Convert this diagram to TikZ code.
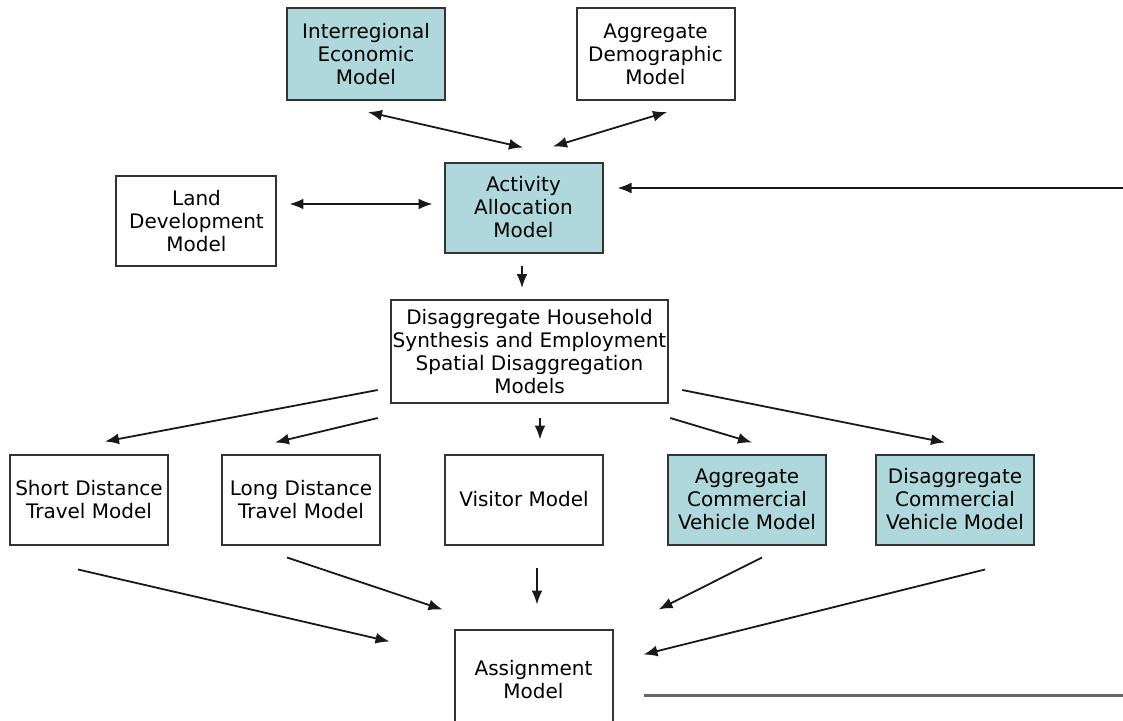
\documentclass[tikz,border=0pt]{standalone}
\usepackage{fontspec}
\setmainfont{DejaVu Sans}
\usetikzlibrary{arrows.meta}
\usetikzlibrary{positioning}
\definecolor{modelfill}{RGB}{174,216,220}
\tikzset{
    model/.style = {draw=black!80, line width=2pt, inner sep=2pt, outer sep=0pt,
                 minimum width=158pt, minimum height=90pt, align=center,
                 font=\fontsize{20}{23}\selectfont},
    tealbox/.style = {model, fill=modelfill},
    link/.style = {draw=black!90, line width=1.8pt},
}

\begin{document}
\begin{tikzpicture}[->,>={Latex[length=14pt,width=11pt]},link]
 \node (act) [tealbox] {Activity\\Allocation\\Model};
 \useasboundingbox ([xshift=-523.5pt,yshift=207.5pt]act.center) rectangle ++(1123pt,-720pt);

 \node (inter) [tealbox,minimum height=92pt,above=62.5pt of act,xshift=-157.5pt] {Interregional\\Economic\\Model};
 \node (demo) [model,minimum height=92pt,above=62.5pt of act,xshift=132pt] {Aggregate\\Demographic\\Model};
 \node (land) [model,minimum width=160pt,left=168pt of act,yshift=-13.5pt] {Land\\Development\\Model};
 \node (hh) [model,minimum width=277pt,minimum height=103pt,below=47.5pt of act,xshift=6pt]
   {Disaggregate Household\\Synthesis and Employment\\Spatial Disaggregation\\Models};

 % travel models
 \node (visit) [model,below=51.5pt of hh,xshift=-5.5pt] {Visitor Model};
 \node (long) [model,left=65pt of visit] {Long Distance\\Travel Model};
 \node (short) [model,left=54pt of long] {Short Distance\\Travel Model};
 \node (aggc) [tealbox,right=65pt of visit] {Aggregate\\Commercial\\Vehicle Model};
 \node (disc) [tealbox,right=50pt of aggc] {Disaggregate\\Commercial\\Vehicle Model};

 \node (assign) [model,minimum height=100pt,below=85pt of visit,xshift=9.5pt] {Assignment\\Model};

 \coordinate (fb) at ([xshift=599.5pt,yshift=19.5pt]act.center);
 \coordinate (out) at ([xshift=511pt,yshift=-66pt]assign.north east);

 \draw[<->] ([xshift=2pt,yshift=-12pt]inter.south) -- ([xshift=-0.5pt,yshift=15pt]act.north);
 \draw[<->] ([xshift=11.5pt,yshift=-12pt]demo.south) -- ([xshift=29.5pt,yshift=16pt]act.north);
 \draw[<->] ([xshift=13pt,yshift=17pt]land.east) -- ([xshift=-12pt,yshift=3.5pt]act.west);
 \draw (fb) -- ([xshift=15pt,yshift=19.5pt]act.east);
 \draw ([xshift=-1.5pt,yshift=-13pt]act.south) -- ([xshift=-7.5pt,yshift=12pt]hh.north);

 \draw ([xshift=-13pt,yshift=-38.5pt]hh.west) -- ([xshift=16pt,yshift=13pt]short.north);
 \draw ([xshift=-13pt,yshift=-15pt]hh.south west) -- ([xshift=-26pt,yshift=12pt]long.north);
 \draw ([xshift=10.5pt,yshift=-15pt]hh.south) -- ([xshift=16pt,yshift=15pt]visit.north);
 \draw ([xshift=2pt,yshift=-15pt]hh.south east) -- ([xshift=5pt,yshift=12pt]aggc.north);
 \draw ([xshift=14pt,yshift=-38.5pt]hh.east) -- ([xshift=-10pt,yshift=12pt]disc.north);

 \draw ([xshift=-11pt,yshift=-25pt]short.south) -- ([xshift=-65pt,yshift=-12pt]assign.north west);
 \draw ([xshift=-14pt,yshift=-13pt]long.south) -- ([xshift=-12pt,yshift=20pt]assign.north west);
 \draw ([xshift=13pt,yshift=-23pt]visit.south) -- ([xshift=3.5pt,yshift=25pt]assign.north);
 \draw ([xshift=15pt,yshift=-13pt]aggc.south) -- ([xshift=46pt,yshift=20pt]assign.north east);
 \draw ([xshift=30pt,yshift=-25pt]disc.south) -- ([xshift=31pt,yshift=-25pt]assign.north east);
 \draw[-,draw=black!60,line width=2.6pt] ([xshift=31pt,yshift=-66pt]assign.north east) -- (out);
\end{tikzpicture}
\end{document}
